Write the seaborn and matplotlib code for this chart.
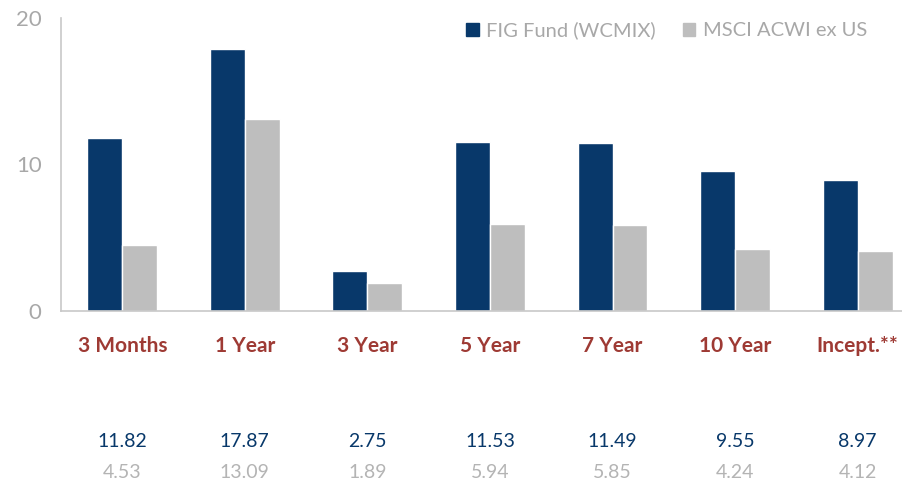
import matplotlib
matplotlib.use("Agg")
import matplotlib.pyplot as plt
import seaborn as sns
import pandas as pd
from matplotlib.patches import Patch

periods = ["3 Months", "1 Year", "3 Year", "5 Year", "7 Year", "10 Year", "Incept.**"]
fund_returns = [11.82, 17.87, 2.75, 11.53, 11.49, 9.55, 8.97]
index_returns = [4.53, 13.09, 1.89, 5.94, 5.85, 4.24, 4.12]
series_names = ["FIG Fund (WCMIX)", "MSCI ACWI ex US"]

NAVY = "#08386A"
GREY = "#BEBEBE"
RED = "#9E3A34"

df = pd.DataFrame({
    "period": periods * 2,
    "value": fund_returns + index_returns,
    "series": [series_names[0]] * len(periods) + [series_names[1]] * len(periods),
})

sns.set_style("white")
plt.rcParams["font.family"] = ["Lato", "DejaVu Sans"]

fig = plt.figure(figsize=(9.03, 4.84), dpi=100)
W, H = 903, 484
# axes in pixel coords: left 61, right 903, bottom 311, top 18
ax = fig.add_axes([61 / W, 1 - 311 / H, (903 - 61) / W, (311 - 18) / H])

sns.barplot(data=df, x="period", y="value", hue="series", order=periods,
            hue_order=series_names, palette=[NAVY, GREY], width=0.57,
            saturation=1, ax=ax, legend=False)

ax.set_xlim(-0.5, 6.37)
ax.set_ylim(0, 20)
ax.set_yticks([0, 10, 20])
ax.set_xlabel("")
ax.set_ylabel("")
for side in ["top", "right"]:
    ax.spines[side].set_visible(False)
ax.spines["left"].set_color("#C8C8C8")
ax.spines["bottom"].set_color("#C8C8C8")
ax.spines["left"].set_linewidth(1.2)
ax.spines["bottom"].set_linewidth(1.2)
ax.tick_params(axis="y", length=0, labelsize=16, labelcolor="#A8A8A8", pad=14)
ax.tick_params(axis="x", length=0, labelsize=15, labelcolor=RED, pad=18)
for lbl in ax.get_xticklabels():
    lbl.set_fontweight("bold")

# values table under the chart
for i in range(len(periods)):
    ax.text(i, -8.9, f"{fund_returns[i]:.2f}", transform=ax.transData,
            ha="center", va="center", fontsize=14, color=NAVY, clip_on=False)
    ax.text(i, -11.05, f"{index_returns[i]:.2f}", transform=ax.transData,
            ha="center", va="center", fontsize=14, color="#B4B4B4", clip_on=False)

handles = [Patch(color=NAVY), Patch(color=GREY)]
leg = ax.legend(handles, series_names, loc="upper left", bbox_to_anchor=(0.46, 1.05),
                ncol=2, frameon=False, prop={"size": 14.5},
                handlelength=0.6, handleheight=0.6,
                handletextpad=0.35, columnspacing=1.4)
for t in leg.get_texts():
    t.set_color("#A8A8A8")

fig.savefig("out.png", dpi=100)
